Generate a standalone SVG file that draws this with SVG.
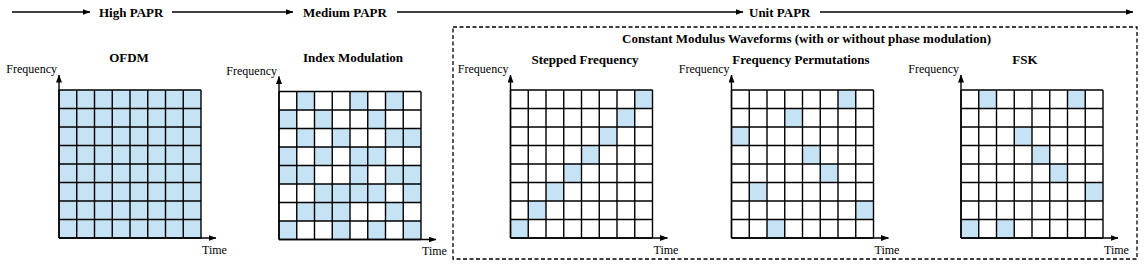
<svg xmlns="http://www.w3.org/2000/svg" xmlns:xlink="http://www.w3.org/1999/xlink" width="1144" height="266" viewBox="0 0 1144 266">
<style>
.bg{fill:#ffffff}
.on{fill:#c5e3f4}
.gl{fill:none;stroke:#000;stroke-width:1.4}
.ax{fill:none;stroke:#000;stroke-width:1.4}
.ttl{font-family:"Liberation Serif","Times New Roman",serif;font-weight:bold;font-size:13px;fill:#000}
.lbl{font-family:"Liberation Serif","Times New Roman",serif;font-size:12px;fill:#000}
.box{fill:none;stroke:#000;stroke-width:1.3;stroke-dasharray:4 2.5}
</style>
<defs>
<marker id="ah" markerWidth="8" markerHeight="6" refX="7.5" refY="3" orient="auto" markerUnits="userSpaceOnUse"><path d="M0,0 L8,3 L0,6 z" fill="#000"/></marker>
<path id="grid" class="gl" d="M0,0H142M0,18.5H142M0,37H142M0,55.5H142M0,74H142M0,92.5H142M0,111H142M0,129.5H142M0,148H142M0,0V148M17.75,0V148M35.5,0V148M53.25,0V148M71,0V148M88.75,0V148M106.5,0V148M124.25,0V148M142,0V148"/>
<g id="axes">
<line class="ax" x1="0" y1="148" x2="0" y2="-15" marker-end="url(#ah)"/>
<line class="ax" x1="0" y1="148" x2="157" y2="148" marker-end="url(#ah)"/>
<text class="lbl" x="-2" y="-17" text-anchor="end">Frequency</text>
<text class="lbl" x="143" y="163.5">Time</text>
</g>
</defs>
<rect class="bg" x="0" y="0" width="1144" height="266"/>

<g id="connectors">
<line class="ax" x1="12" y1="12" x2="90" y2="12" marker-end="url(#ah)"/>
<line class="ax" x1="172" y1="12" x2="293" y2="12" marker-end="url(#ah)"/>
<line class="ax" x1="397" y1="12" x2="743" y2="12" marker-end="url(#ah)"/>
<line class="ax" x1="820" y1="12" x2="1133" y2="12" marker-end="url(#ah)"/>
</g>
<g id="papr-labels">
<text class="ttl" x="99" y="17">High PAPR</text>
<text class="ttl" x="303" y="17">Medium PAPR</text>
<text class="ttl" x="749" y="17">Unit PAPR</text>
</g>

<g id="constant-modulus">
<rect class="box" x="453" y="27" width="684" height="232"/>
<text class="ttl" x="622" y="42.5">Constant Modulus Waveforms (with or without phase modulation)</text>
</g>

<g id="ofdm">
<text class="ttl" x="129" y="62" text-anchor="middle">OFDM</text>
<g transform="translate(59,90)">
<rect class="on" x="0" y="0" width="142" height="148"/>
<use xlink:href="#grid"/>
<use xlink:href="#axes"/>
</g>
</g>

<g id="index-modulation">
<text class="ttl" x="353" y="62" text-anchor="middle">Index Modulation</text>
<g transform="translate(279,91.5)">
<rect class="on" x="17.75" y="0" width="17.75" height="18.5"/>
<rect class="on" x="71" y="0" width="17.75" height="18.5"/>
<rect class="on" x="106.5" y="0" width="17.75" height="18.5"/>
<rect class="on" x="0" y="18.5" width="17.75" height="18.5"/>
<rect class="on" x="35.5" y="18.5" width="17.75" height="18.5"/>
<rect class="on" x="88.75" y="18.5" width="17.75" height="18.5"/>
<rect class="on" x="17.75" y="37" width="17.75" height="18.5"/>
<rect class="on" x="53.25" y="37" width="17.75" height="18.5"/>
<rect class="on" x="106.5" y="37" width="17.75" height="18.5"/>
<rect class="on" x="124.25" y="37" width="17.75" height="18.5"/>
<rect class="on" x="0" y="55.5" width="17.75" height="18.5"/>
<rect class="on" x="35.5" y="55.5" width="17.75" height="18.5"/>
<rect class="on" x="71" y="55.5" width="17.75" height="18.5"/>
<rect class="on" x="88.75" y="55.5" width="17.75" height="18.5"/>
<rect class="on" x="0" y="74" width="17.75" height="18.5"/>
<rect class="on" x="17.75" y="74" width="17.75" height="18.5"/>
<rect class="on" x="71" y="74" width="17.75" height="18.5"/>
<rect class="on" x="106.5" y="74" width="17.75" height="18.5"/>
<rect class="on" x="124.25" y="74" width="17.75" height="18.5"/>
<rect class="on" x="35.5" y="92.5" width="17.75" height="18.5"/>
<rect class="on" x="53.25" y="92.5" width="17.75" height="18.5"/>
<rect class="on" x="71" y="92.5" width="17.75" height="18.5"/>
<rect class="on" x="88.75" y="92.5" width="17.75" height="18.5"/>
<rect class="on" x="124.25" y="92.5" width="17.75" height="18.5"/>
<rect class="on" x="17.75" y="111" width="17.75" height="18.5"/>
<rect class="on" x="35.5" y="111" width="17.75" height="18.5"/>
<rect class="on" x="53.25" y="111" width="17.75" height="18.5"/>
<rect class="on" x="106.5" y="111" width="17.75" height="18.5"/>
<rect class="on" x="0" y="129.5" width="17.75" height="18.5"/>
<rect class="on" x="53.25" y="129.5" width="17.75" height="18.5"/>
<rect class="on" x="88.75" y="129.5" width="17.75" height="18.5"/>
<rect class="on" x="124.25" y="129.5" width="17.75" height="18.5"/>
<use xlink:href="#grid"/>
<use xlink:href="#axes"/>
</g>
</g>

<g id="stepped-frequency">
<text class="ttl" x="585" y="63.5" text-anchor="middle">Stepped Frequency</text>
<g transform="translate(510.5,90)">
<rect class="on" x="0" y="129.5" width="17.75" height="18.5"/>
<rect class="on" x="17.75" y="111" width="17.75" height="18.5"/>
<rect class="on" x="35.5" y="92.5" width="17.75" height="18.5"/>
<rect class="on" x="53.25" y="74" width="17.75" height="18.5"/>
<rect class="on" x="71" y="55.5" width="17.75" height="18.5"/>
<rect class="on" x="88.75" y="37" width="17.75" height="18.5"/>
<rect class="on" x="106.5" y="18.5" width="17.75" height="18.5"/>
<rect class="on" x="124.25" y="0" width="17.75" height="18.5"/>
<use xlink:href="#grid"/>
<use xlink:href="#axes"/>
</g>
</g>

<g id="frequency-permutations">
<text class="ttl" x="801" y="63.5" text-anchor="middle">Frequency Permutations</text>
<g transform="translate(731.5,90)">
<rect class="on" x="106.5" y="0" width="17.75" height="18.5"/>
<rect class="on" x="53.25" y="18.5" width="17.75" height="18.5"/>
<rect class="on" x="0" y="37" width="17.75" height="18.5"/>
<rect class="on" x="71" y="55.5" width="17.75" height="18.5"/>
<rect class="on" x="88.75" y="74" width="17.75" height="18.5"/>
<rect class="on" x="17.75" y="92.5" width="17.75" height="18.5"/>
<rect class="on" x="124.25" y="111" width="17.75" height="18.5"/>
<rect class="on" x="35.5" y="129.5" width="17.75" height="18.5"/>
<use xlink:href="#grid"/>
<use xlink:href="#axes"/>
</g>
</g>

<g id="fsk">
<text class="ttl" x="1025" y="63.5" text-anchor="middle">FSK</text>
<g transform="translate(961,90)">
<rect class="on" x="17.75" y="0" width="17.75" height="18.5"/>
<rect class="on" x="106.5" y="0" width="17.75" height="18.5"/>
<rect class="on" x="53.25" y="37" width="17.75" height="18.5"/>
<rect class="on" x="71" y="55.5" width="17.75" height="18.5"/>
<rect class="on" x="88.75" y="74" width="17.75" height="18.5"/>
<rect class="on" x="124.25" y="92.5" width="17.75" height="18.5"/>
<rect class="on" x="0" y="129.5" width="17.75" height="18.5"/>
<rect class="on" x="35.5" y="129.5" width="17.75" height="18.5"/>
<use xlink:href="#grid"/>
<use xlink:href="#axes"/>
</g>
</g>
</svg>
